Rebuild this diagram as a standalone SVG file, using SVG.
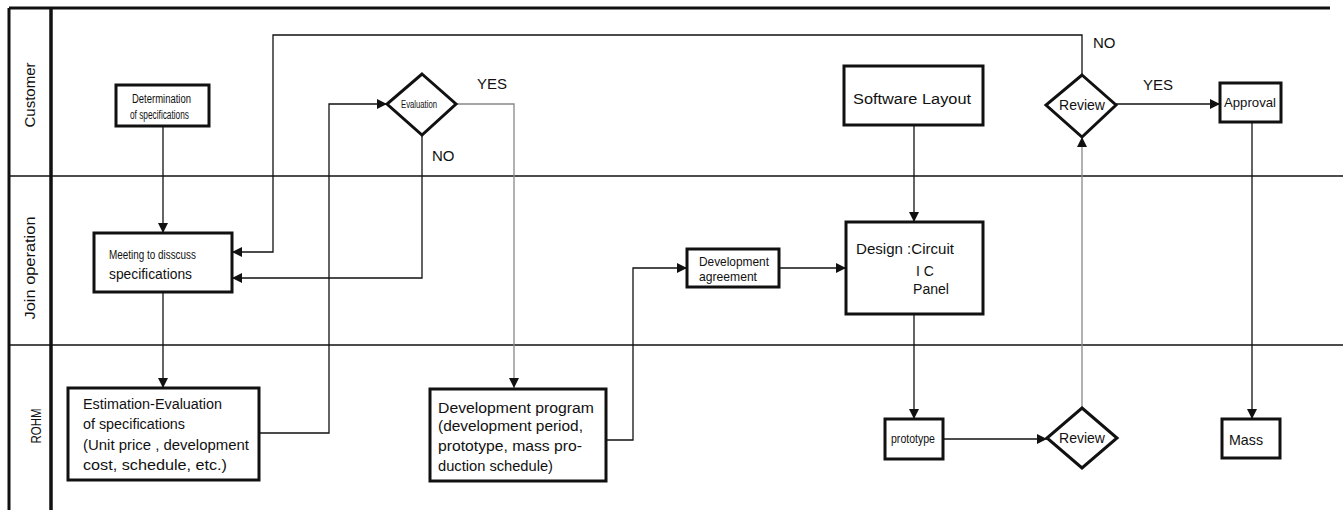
<svg xmlns="http://www.w3.org/2000/svg" width="1343" height="510" viewBox="0 0 1343 510">
<style>
.t{font-family:"Liberation Sans",Arial,sans-serif;fill:#111;}
.box{fill:#fff;stroke:#111;stroke-width:3;}
.frame{stroke:#111;fill:none;}
.c{fill:none;stroke:#111;stroke-width:1.3;}
.g{fill:none;stroke:#888;stroke-width:1.3;}
</style>
<defs>
<marker id="ah" viewBox="0 0 10 10" refX="10" refY="5" markerWidth="10" markerHeight="10" markerUnits="userSpaceOnUse" orient="auto">
<path d="M0,0 L10,5 L0,10 z" fill="#111"/>
</marker>
</defs>
<rect width="1343" height="510" fill="#fff"/>
<g id="frame">
<line class="frame" x1="9" y1="8" x2="1330" y2="8" stroke-width="3"/>
<line class="frame" x1="9" y1="8" x2="9" y2="510" stroke-width="3"/>
<line class="frame" x1="51" y1="8" x2="51" y2="510" stroke-width="3.5"/>
<line class="frame" x1="9" y1="176" x2="1343" y2="176" stroke-width="1.5"/>
<line class="frame" x1="9" y1="345" x2="1343" y2="345" stroke-width="1.5"/>
<text class="t" font-size="15" text-anchor="middle" transform="translate(35,95) rotate(-90)">Customer</text>
<text class="t" font-size="15" text-anchor="middle" textLength="103" lengthAdjust="spacingAndGlyphs" transform="translate(35,268) rotate(-90)">Join operation</text>
<text class="t" font-size="15" text-anchor="middle" textLength="35" lengthAdjust="spacingAndGlyphs" transform="translate(41,426) rotate(-90)">ROHM</text>
</g>
<g id="connectors">
<path class="c" d="M163,126 V233" marker-end="url(#ah)"/>
<path class="c" d="M163,292 V388" marker-end="url(#ah)"/>
<path class="c" d="M259,433 H329 V104 H387" marker-end="url(#ah)"/>
<path class="c" d="M422,135 V278 H232" marker-end="url(#ah)"/>
<path class="g" d="M456,104 H514 V388" marker-end="url(#ah)"/>
<path class="c" d="M606,440 H633 V268 H687" marker-end="url(#ah)"/>
<path class="c" d="M779,268 H846" marker-end="url(#ah)"/>
<path class="c" d="M914,125 V222" marker-end="url(#ah)"/>
<path class="c" d="M914,314 V419" marker-end="url(#ah)"/>
<path class="c" d="M943,439 H1047" marker-end="url(#ah)"/>
<path class="g" d="M1082,408 V137" marker-end="url(#ah)"/>
<path class="c" d="M1082,75 V35 H273 V252 H232" marker-end="url(#ah)"/>
<path class="c" d="M1116,104 H1220" marker-end="url(#ah)"/>
<path class="c" d="M1252,122 V419" marker-end="url(#ah)"/>
<text class="t" font-size="15" x="477" y="89">YES</text>
<text class="t" font-size="15" x="432" y="161">NO</text>
<text class="t" font-size="15" x="1093" y="48">NO</text>
<text class="t" font-size="15" x="1143" y="90">YES</text>
</g>
<g id="determination">
<rect class="box" x="116" y="85" width="93" height="41"/>
<text class="t" font-size="12" x="132" y="103" textLength="59" lengthAdjust="spacingAndGlyphs">Determination</text>
<text class="t" font-size="12" x="130" y="119" textLength="59" lengthAdjust="spacingAndGlyphs">of specifications</text>
</g>
<g id="meeting">
<rect class="box" x="94" y="233" width="138" height="59"/>
<text class="t" font-size="12" x="109" y="259" textLength="87" lengthAdjust="spacingAndGlyphs">Meeting to disscuss</text>
<text class="t" font-size="15" x="109" y="279" textLength="83" lengthAdjust="spacingAndGlyphs">specifications</text>
</g>
<g id="estimation">
<rect class="box" x="68" y="388" width="191" height="92"/>
<text class="t" font-size="14" x="83" y="409" textLength="139" lengthAdjust="spacingAndGlyphs">Estimation-Evaluation</text>
<text class="t" font-size="14" x="83" y="429" textLength="102" lengthAdjust="spacingAndGlyphs">of specifications</text>
<text class="t" font-size="14" x="83" y="450" textLength="166" lengthAdjust="spacingAndGlyphs">(Unit price , development</text>
<text class="t" font-size="14" x="83" y="470" textLength="144" lengthAdjust="spacingAndGlyphs">cost, schedule, etc.)</text>
</g>
<g id="evaluation">
<polygon class="box" points="422,74 456,104 422,135 387,104"/>
<text class="t" font-size="11" x="401" y="108" textLength="36" lengthAdjust="spacingAndGlyphs">Evaluation</text>
</g>
<g id="devprogram">
<rect class="box" x="430" y="389" width="176" height="92"/>
<text class="t" font-size="14" x="438" y="413" textLength="156" lengthAdjust="spacingAndGlyphs">Development  program</text>
<text class="t" font-size="14" x="438" y="431" textLength="145" lengthAdjust="spacingAndGlyphs">(development period,</text>
<text class="t" font-size="14" x="438" y="451" textLength="144" lengthAdjust="spacingAndGlyphs">prototype, mass pro-</text>
<text class="t" font-size="14" x="438" y="471" textLength="115" lengthAdjust="spacingAndGlyphs">duction schedule)</text>
</g>
<g id="devagreement">
<rect class="box" x="687" y="249" width="92" height="38"/>
<text class="t" font-size="13" x="699" y="266" textLength="70" lengthAdjust="spacingAndGlyphs">Development</text>
<text class="t" font-size="13" x="699" y="281" textLength="58" lengthAdjust="spacingAndGlyphs">agreement</text>
</g>
<g id="software">
<rect class="box" x="844" y="66" width="139" height="59"/>
<text class="t" font-size="14" x="853" y="104" textLength="118" lengthAdjust="spacingAndGlyphs">Software  Layout</text>
</g>
<g id="design">
<rect class="box" x="846" y="222" width="137" height="92"/>
<text class="t" font-size="14" x="856" y="254" textLength="98" lengthAdjust="spacingAndGlyphs">Design :Circuit</text>
<text class="t" font-size="14" x="916" y="276">I  C</text>
<text class="t" font-size="14" x="913" y="294" textLength="36" lengthAdjust="spacingAndGlyphs">Panel</text>
</g>
<g id="prototype">
<rect class="box" x="885" y="419" width="58" height="40"/>
<text class="t" font-size="12" x="891" y="443" textLength="44" lengthAdjust="spacingAndGlyphs">prototype</text>
</g>
<g id="review-rohm">
<polygon class="box" points="1082,408 1117,438 1082,468 1047,438"/>
<text class="t" font-size="14" x="1082" y="443" text-anchor="middle">Review</text>
</g>
<g id="review-customer">
<polygon class="box" points="1082,75 1116,105 1082,137 1046,105"/>
<text class="t" font-size="14" x="1082" y="110" text-anchor="middle">Review</text>
</g>
<g id="approval">
<rect class="box" x="1220" y="83" width="61" height="39"/>
<text class="t" font-size="13" x="1224" y="107" textLength="52" lengthAdjust="spacingAndGlyphs">Approval</text>
</g>
<g id="mass">
<rect class="box" x="1222" y="419" width="58" height="39"/>
<text class="t" font-size="15" x="1229" y="445" textLength="34" lengthAdjust="spacingAndGlyphs">Mass</text>
</g>
</svg>
